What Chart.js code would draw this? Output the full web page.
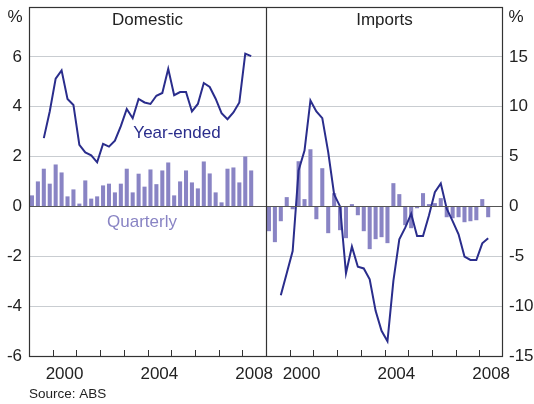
<!DOCTYPE html>
<html>
<head>
<meta charset="utf-8">
<script src="https://cdn.jsdelivr.net/npm/chart.js@4/dist/chart.umd.min.js"></script>
<style>
html,body{margin:0;padding:0;background:#fff;}
#wrap{position:relative;width:534px;height:404px;}
canvas{display:block;}
</style>
</head>
<body>
<div id="wrap"><canvas id="c" width="534" height="404" style="width:534px;height:404px"></canvas></div>
<script>
// Quarters 1999Q1 .. 2008Q2 (one panel)
const quarters = ['1999Q1','1999Q2','1999Q3','1999Q4','2000Q1','2000Q2','2000Q3','2000Q4',
  '2001Q1','2001Q2','2001Q3','2001Q4','2002Q1','2002Q2','2002Q3','2002Q4',
  '2003Q1','2003Q2','2003Q3','2003Q4','2004Q1','2004Q2','2004Q3','2004Q4',
  '2005Q1','2005Q2','2005Q3','2005Q4','2006Q1','2006Q2','2006Q3','2006Q4',
  '2007Q1','2007Q2','2007Q3','2007Q4','2008Q1','2008Q2'];
const yearLabels = ['2000','2004','2008'];
const panelNames = ['Domestic','Imports'];

const domesticQuarterly = [0.43,0.99,1.5,0.9,1.67,1.35,0.39,0.67,0.1,1.03,
  0.3,0.39,0.83,0.9,0.55,0.9,1.5,0.55,1.3,0.78,
  1.47,0.88,1.43,1.75,0.43,0.99,1.43,0.95,0.71,1.79,
  1.31,0.55,0.15,1.5,1.55,0.95,1.99,1.43];
const domesticYearEnded = [null,null,2.74,3.81,5.13,5.46,4.31,4.07,2.47,2.17,
  2.05,1.77,2.51,2.40,2.64,3.22,3.91,3.54,4.31,4.17,
  4.11,4.44,4.55,5.52,4.46,4.59,4.59,3.81,4.11,4.95,
  4.79,4.32,3.74,3.50,3.77,4.17,6.13,6.03];
const importsQuarterly = [-2.45,-3.55,-1.45,0.9,-0.25,4.5,0.7,5.7,-1.25,3.8,
  -2.65,1.3,-2.35,-3.15,0.2,-0.85,-2.45,-4.25,-3.25,-3.05,
  -3.65,2.3,1.2,-1.85,-2.15,-0.15,1.3,0.2,0.3,0.8,
  -1.05,-1.15,-1.05,-1.55,-1.45,-1.35,0.7,-1.05];
const importsYearEnded = [null,null,-8.9,-6.7,-4.47,3.6,5.6,10.63,9.53,8.85,
  5.45,1.2,0.0,-6.7,-4.03,-6.05,-6.22,-7.3,-10.47,-12.47,
  -13.53,-7.47,-3.3,-2.13,-0.73,-2.97,-2.97,-0.9,1.43,2.3,
  -0.23,-1.47,-2.8,-5.03,-5.37,-5.37,-3.7,-3.2];

const BAR = '#8984c4', LINE = '#2a2d8c', TXT = '#222';
const FONT = '"Liberation Sans", Arial, sans-serif';
Chart.defaults.font.family = FONT;
Chart.defaults.color = TXT;

// x positions: quarter i of panel p centred at p*40 + i + 0.5 (units of quarters from 1999Q1)
function pts(arr, panel){ return arr.map((v,i)=>({x: panel*40 + i + 0.5, y: v})); }
const yearTickValues = [];
[0,1].forEach(p => yearLabels.forEach(y => yearTickValues.push(p*40 + (parseInt(y)-1999)*4 + 2)));

const decor = {
  id:'decor',
  afterDraw(chart){
    const ctx = chart.ctx, a = chart.chartArea, xs = chart.scales.x, yl = chart.scales.y;
    ctx.save();
    // zero line
    ctx.strokeStyle = '#555'; ctx.lineWidth = 1.2;
    const y0 = Math.round(yl.getPixelForValue(0)) + 0.5;
    ctx.beginPath(); ctx.moveTo(a.left, y0); ctx.lineTo(a.right, y0); ctx.stroke();
    // frame + divider
    ctx.strokeStyle = '#333'; ctx.lineWidth = 1.2;
    ctx.strokeRect(a.left + 0.5, a.top + 0.5, a.right - a.left - 1, a.bottom - a.top);
    const xm = Math.round(xs.getPixelForValue(40)) + 0.5;
    ctx.beginPath(); ctx.moveTo(xm, a.top); ctx.lineTo(xm, a.bottom); ctx.stroke();
    // year ticks
    ctx.lineWidth = 1;
    for (let q = 4; q < 80; q += 4) {
      if (q === 40) continue;
      const px = Math.round(xs.getPixelForValue(q)) + 0.5;
      ctx.beginPath(); ctx.moveTo(px, a.bottom); ctx.lineTo(px, a.bottom - 6); ctx.stroke();
    }
    // texts
    ctx.fillStyle = TXT; ctx.font = '17px ' + FONT; ctx.textBaseline = 'middle';
    ctx.textAlign = 'center';
    ctx.fillText(panelNames[0], xs.getPixelForValue(20), 20);
    ctx.fillText(panelNames[1], xs.getPixelForValue(60), 20);
    ctx.fillText('%', 15, 17);
    ctx.fillText('%', 516, 17);
    ctx.fillStyle = LINE;
    ctx.fillText('Year-ended', 177, 133);
    ctx.fillStyle = BAR;
    ctx.fillText('Quarterly', 142, 222);
    ctx.fillStyle = TXT; ctx.textAlign = 'left'; ctx.font = '13.5px ' + FONT;
    ctx.fillText('Source: ABS', 29, 394);
    ctx.restore();
  }
};

new Chart(document.getElementById('c'), {
  data: {
    datasets: [
      {type:'line', data: pts(domesticYearEnded,0), yAxisID:'y', borderColor: LINE, borderWidth: 2, pointRadius: 0, tension: 0, order: 0, spanGaps:false},
      {type:'line', data: pts(importsYearEnded,1), yAxisID:'y2', borderColor: LINE, borderWidth: 2, pointRadius: 0, tension: 0, order: 0, spanGaps:false},
      {type:'bar', data: pts(domesticQuarterly,0), yAxisID:'y', backgroundColor: BAR, barThickness: 3.4, grouped: false, order: 1},
      {type:'bar', data: pts(importsQuarterly,1), yAxisID:'y2', backgroundColor: BAR, barThickness: 3.4, grouped: false, order: 1}
    ]
  },
  options: {
    responsive: false, animation: false, devicePixelRatio: 1,
    layout: {padding: {top: 7, left: 0, right: 0, bottom: 0}},
    plugins: {legend: {display: false}, tooltip: {enabled: false}},
    scales: {
      x: {
        type: 'linear', min: 0, max: 80, position: 'bottom', offset: false,
        grid: {display: false, drawTicks: false, offset: false}, border: {display: false},
        afterBuildTicks: s => { s.ticks = yearTickValues.map(v => ({value: v})); },
        afterFit: s => { s.height = 48; s.paddingLeft = 0; s.paddingRight = 0; },
        ticks: {autoSkip: false, maxRotation: 0, padding: 8, font: {size: 17}, color: TXT,
          callback: v => String(1999 + Math.floor(((v % 40)) / 4))}
      },
      y: {
        position: 'left', min: -6, max: 8,
        afterFit: s => { s.width = 29; s.paddingTop = 0; s.paddingBottom = 0; },
        border: {display: false},
        grid: {drawTicks: false, color: c => c.tick.value === 0 ? '#555' : '#c9cdd1', lineWidth: 1},
        ticks: {stepSize: 2, padding: 7, font: {size: 17}, color: TXT, callback: v => v === 8 ? '' : String(v)}
      },
      y2: {
        position: 'right', min: -15, max: 20,
        afterFit: s => { s.width = 31; s.paddingTop = 0; s.paddingBottom = 0; },
        border: {display: false},
        grid: {display: false, drawTicks: false},
        ticks: {stepSize: 5, padding: 6, font: {size: 17}, color: TXT, callback: v => v === 20 ? '' : String(v)}
      }
    }
  },
  plugins: [decor]
});
</script>
</body>
</html>
